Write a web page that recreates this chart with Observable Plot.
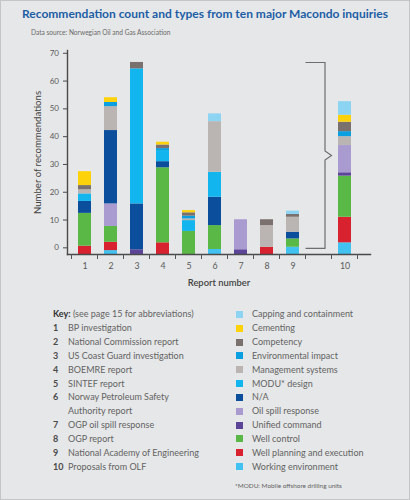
<!DOCTYPE html>
<html>
<head>
<meta charset="utf-8">
<script src="https://cdn.jsdelivr.net/npm/d3@7"></script>
<script src="https://cdn.jsdelivr.net/npm/@observablehq/plot@0.6"></script>
<style>
  html, body { margin: 0; padding: 0; background: #e6e7e8; }
  #wrap { position: relative; width: 410px; height: 500px; background: #e6e7e8;
          box-shadow: inset 0 0 0 1px #c4c5c7; overflow: hidden; font-family: Lato, "Open Sans", sans-serif; }
  .abs { position: absolute; white-space: nowrap; }
  #title { left: 22px; top: 6px; font-size: 12px; font-weight: 700; color: #1b5ea6; }
  #sub { left: 31px; top: 28px; font-size: 6.6px; color: #6a6a6a; }
  #chart { position: absolute; left: 0; top: 40px; }
  .row { position: absolute; height: 14px; line-height: 14px; font-size: 9px; color: #636363; white-space: nowrap; }
  .num { position: absolute; font-weight: 700; color: #4a4a4a; }
  .sw { position: absolute; width: 7px; height: 7px; top: 3.5px; }
  #foot { left: 235px; top: 482px; font-size: 6.4px; color: #5f5f5f; }
</style>
</head>
<body>
<div id="wrap">
  <div id="title" class="abs"></div>
  <div id="sub" class="abs"></div>
  <div id="chart"></div>
  <div id="key"></div>
  <div id="foot" class="abs"></div>
</div>
<script>
// ---------- data ----------
const titleText = "Recommendation count and types from ten major Macondo inquiries";
const subtitleText = "Data source: Norwegian Oil and Gas Association";
const yLabel = "Number of recommendations";
const xLabel = "Report number";
const footnote = "*MODU: Mobile offshore drilling units";
const keyHeading = "(see page 15 for abbreviations)";

const reports = ["1", "2", "3", "4", "5", "6", "7", "8", "9", "10"];
const gapKey = " ";
const reportNames = [
  ["BP investigation"],
  ["National Commission report"],
  ["US Coast Guard investigation"],
  ["BOEMRE report"],
  ["SINTEF report"],
  ["Norway Petroleum Safety", "Authority report"],
  ["OGP oil spill response"],
  ["OGP report"],
  ["National Academy of Engineering"],
  ["Proposals from OLF"]
];
const yTicks = [0, 10, 20, 30, 40, 50, 60, 70];
const yBase = -2.4;          // axis value where the bars start
const yTop = 71;
const bracketRange = [-0.4, 66.5];

const categories = [
  "Capping and containment", "Cementing", "Competency", "Environmental impact",
  "Management systems", "MODU* design", "N/A", "Oil spill response",
  "Unified command", "Well control", "Well planning and execution", "Working environment"
];
const categoryColors = [
  "#8dd4f2", "#fdd20a", "#7a706d", "#0a9fe0",
  "#bab5b2", "#12b5ee", "#0b4f9c", "#a99ad0",
  "#5c4599", "#5ab847", "#d9222f", "#42c2f0"
];

// segment sizes per report 1..10
const cappingContainment   = [0,    0,    0,    0,    0,    2.8,  0,    0,    1.2,  4.9];
const cementing            = [5.0,  1.7,  0,    1.0,  0.8,  0,    0,    0,    0,    2.5];
const competency           = [1.5,  0,    2.3,  1.3,  1.2,  0,    0,    2.1,  1.0,  3.4];
const environmentalImpact  = [0,    1.5,  0,    0.7,  1.0,  0,    0,    0,    0,    1.8];
const managementSystems    = [1.5,  8.6,  0,    0,    0.6,  18.2, 0,    7.8,  5.4,  3.2];
const moduDesign           = [2.7,  0,    48.6, 4.0,  3.9,  9.0,  0,    0,    0,    0];
const notApplicable        = [4.3,  26.4, 16.5, 2.2,  0,    10.2, 0,    0,    2.4,  0];
const oilSpillResponse     = [0,    8.1,  0,    0,    0,    0,    10.8, 0,    0,    9.8];
const unifiedCommand       = [0,    0,    1.7,  0,    0,    0,    1.7,  0,    0,    1.2];
const wellControl          = [11.8, 5.7,  0,    27.0, 8.3,  8.6,  0,    0,    3.0,  14.8];
const wellPlanning         = [3.0,  3.0,  0,    4.2,  0,    0,    0,    2.6,  0,    9.2];
const workingEnvironment   = [0,    1.4,  0,    0,    0,    1.8,  0,    0,    2.6,  4.2];

const seriesValues = [
  cappingContainment, cementing, competency, environmentalImpact,
  managementSystems, moduDesign, notApplicable, oilSpillResponse,
  unifiedCommand, wellControl, wellPlanning, workingEnvironment
];

// ---------- build table ----------
const stackOrder = categories.map((_, i) => i).reverse(); // bottom -> top
const rows = [];
reports.forEach((r, i) => {
  let acc = yBase;
  for (const k of stackOrder) {
    const v = seriesValues[k][i];
    if (v > 0) {
      rows.push({report: r, category: categories[k], y1: acc, y2: acc + v});
      acc += v;
    }
  }
});
const xDomain = [...reports.slice(0, 9), gapKey, reports[9]];

function findScales(args) {
  return args.find(a => a && typeof a === "object" && !Array.isArray(a) && typeof a.x === "function" && typeof a.y === "function");
}
function bandInfo(x) {
  const step = x(reports[9]) - x(gapKey);
  const bw = typeof x.bandwidth === "function" ? x.bandwidth() : step * 0.5;
  return {step, bw};
}

const boundaryTicks = (...args) => {
  const {x, y} = findScales(args);
  const {step, bw} = bandInfo(x);
  const off = (step - bw) / 2;
  const xs = xDomain.map(k => x(k) - off);
  xs.push(x(reports[9]) + bw + off);
  const g = d3.create("svg:g").attr("stroke", "#555").attr("stroke-width", 1);
  const y0 = y(yBase);
  for (const bx of xs) g.append("line").attr("x1", bx).attr("x2", bx).attr("y1", y0).attr("y2", y0 + 5);
  return g.node();
};

const bracket = (...args) => {
  const {x, y} = findScales(args);
  const {step, bw} = bandInfo(x);
  const left = x(gapKey) - (step - bw) / 2;
  const vx = left + 0.75 * step;
  const apex = left + step;
  const yt = y(bracketRange[1]), yb = y(bracketRange[0]);
  const ym = (yt + yb) / 2;
  const path = `M${left},${yt}H${vx}V${ym - 4.5}L${apex},${ym}L${vx},${ym + 4.5}V${yb}H${left}`;
  return d3.create("svg:path").attr("d", path).attr("fill", "none")
    .attr("stroke", "#6e6e6e").attr("stroke-width", 1.2).node();
};

const chart = Plot.plot({
  width: 410,
  height: 260,
  marginTop: 10,
  marginBottom: 46,
  marginLeft: 67,
  marginRight: 40,
  style: {fontFamily: "Lato, 'Open Sans', sans-serif", fontSize: "8.5px", color: "#555", background: "transparent"},
  x: {type: "band", domain: xDomain, range: [67, 362], paddingInner: 0.5, paddingOuter: 0.25},
  y: {domain: [yBase, yTop]},
  color: {domain: categories, range: categoryColors},
  marks: [
    Plot.barY(rows, {x: "report", y1: "y1", y2: "y2", fill: "category"}),
    Plot.frame({anchor: "left", stroke: "#4a4a4a", strokeWidth: 1.4}),
    Plot.frame({anchor: "bottom", stroke: "#4a4a4a", strokeWidth: 1.4}),
    Plot.axisY(yTicks, {anchor: "left", tickSize: 4, tickPadding: 4.5, fontSize: 8, label: null, stroke: "#4a4a4a", fill: "#5a5a5a"}),
    Plot.axisX(reports, {anchor: "bottom", tickSize: 0, tickPadding: 8, fontSize: 8.8, label: null, fill: "#5a5a5a"}),
    Plot.text([yLabel], {frameAnchor: "left", text: d => d, rotate: -90, dx: -30, textAnchor: "middle", fontSize: 9.6, fill: "#444"}),
    Plot.text([xLabel], {frameAnchor: "bottom", text: d => d, dy: 31, textAnchor: "middle", fontSize: 9.4, fontWeight: 600, fill: "#444"}),
    boundaryTicks,
    bracket
  ]
});
document.getElementById("chart").appendChild(chart);

// ---------- titles ----------
document.getElementById("title").textContent = titleText;
document.getElementById("sub").textContent = subtitleText;
document.getElementById("foot").textContent = footnote;

// ---------- key ----------
const key = document.getElementById("key");
const row0 = 314.3, rowStep = 13.85;
function addRow(i, left) {
  const d = document.createElement("div");
  d.className = "row";
  d.style.left = left + "px";
  d.style.top = (row0 + i * rowStep - 7) + "px";
  key.appendChild(d);
  return d;
}
{
  const d = addRow(0, 53);
  d.innerHTML = `<span style="font-weight:700;color:#333">Key:</span> ${keyHeading}`;
}
let line = 1;
reportNames.forEach((names, i) => {
  names.forEach((nm, j) => {
    const d = addRow(line, 53);
    if (j === 0) {
      const n = document.createElement("span");
      n.className = "num";
      n.textContent = reports[i];
      d.appendChild(n);
    }
    const t = document.createElement("span");
    t.style.marginLeft = "15px";
    t.textContent = nm;
    d.appendChild(t);
    line++;
  });
});
categories.forEach((c, i) => {
  const d = addRow(i, 236);
  const s = document.createElement("span");
  s.className = "sw";
  s.style.left = "0px";
  s.style.background = categoryColors[i];
  d.appendChild(s);
  const t = document.createElement("span");
  t.style.marginLeft = "16px";
  t.textContent = c;
  d.appendChild(t);
});
</script>
</body>
</html>
